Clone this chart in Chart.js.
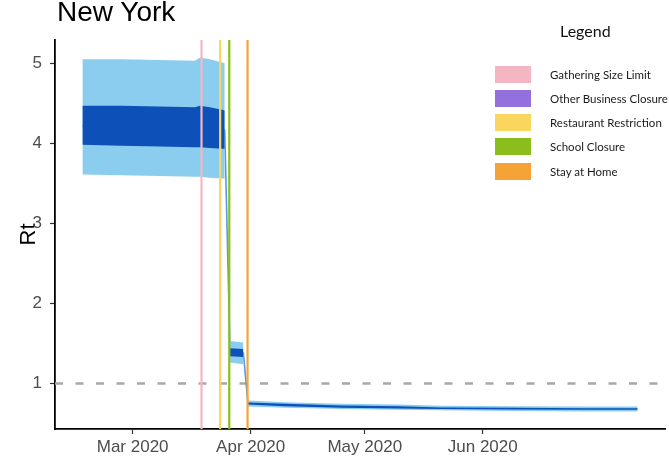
<!DOCTYPE html>
<html><head><meta charset="utf-8">
<script src="https://cdn.jsdelivr.net/npm/chart.js@4/dist/chart.umd.min.js"></script>
<style>
html,body{margin:0;padding:0;background:#fff;}
#wrap{position:relative;width:669px;height:462px;overflow:hidden;background:#fff;}
#c{position:absolute;left:0;top:0;}
#title{position:absolute;left:57px;top:-2px;font-family:"Liberation Sans",Arial,sans-serif;font-size:28px;line-height:28px;color:#000;white-space:nowrap;}
#legendTitle{position:absolute;left:560px;top:23px;font-family:Lato,"Open Sans",sans-serif;font-size:16px;line-height:16px;color:#111;white-space:nowrap;}
.lrow{position:absolute;left:495px;height:17px;display:flex;align-items:center;white-space:nowrap;}
.lbox{width:36px;height:17px;flex:none;}
.ltxt{margin-left:19px;font-family:Lato,"Open Sans",sans-serif;font-size:11.5px;color:#1a1a1a;}
</style></head>
<body><div id="wrap"><canvas id="c" width="669" height="462"></canvas><div id="title">New York</div><div id="legendTitle">Legend</div></div>
<script>
// x = days since 1 Mar 2020
const days       = [-13.2, -3,   7,    16.4, 17.7, 20.3, 23.5, 24.2, 24.9, 25.6, 29.1, 29.7, 30.3,  40,    55,    70,    81,    100,   120,   132.7];
const rtMedian   = [4.22,  4.22, 4.21, 4.20, 4.21, 4.19, 4.17, 4.16, null, 1.39, 1.38, null, 0.75,  0.73,  0.71,  0.70,  0.69,  0.685, 0.68,  0.68];
const outerUpper = [5.05,  5.05, 5.04, 5.03, 5.07, 5.05, 5.01, 5.00, null, 1.53, 1.51, null, 0.785, 0.765, 0.745, 0.735, 0.72,  0.715, 0.71,  0.71];
const outerLower = [3.61,  3.60, 3.59, 3.58, 3.58, 3.57, 3.56, 3.56, null, 1.26, 1.24, null, 0.71,  0.695, 0.68,  0.67,  0.665, 0.655, 0.65,  0.65];
const innerUpper = [4.47,  4.47, 4.46, 4.45, 4.47, 4.45, 4.42, 4.41, null, 1.44, 1.43, null, 0.76,  0.745, 0.725, 0.715, 0.70,  0.695, 0.69,  0.69];
const innerLower = [3.98,  3.97, 3.96, 3.95, 3.95, 3.94, 3.93, 3.93, null, 1.34, 1.33, null, 0.735, 0.715, 0.695, 0.685, 0.68,  0.675, 0.67,  0.67];

const interventionNames  = ['Gathering Size Limit','Other Business Closure','Restaurant Restriction','School Closure','Stay at Home'];
const interventionDays   = [18.1, null, 23.0, 25.4, 30.2];
const interventionColors = ['#f4b6c2','#9370db','#fad65f','#8bbd1c','#f5a336'];

const thresholdRt = 1;
const xTickDays   = [0, 31, 61, 92];
const xTickLabels = ['Mar 2020','Apr 2020','May 2020','Jun 2020'];
const yTicks      = [1, 2, 3, 4, 5];
const xRange = [-20.4, 139.9];
const yRange = [0.43, 5.29];

const pts = arr => days.map((d, i) => ({x: d, y: arr[i]}));

const LIGHT = '#8bcdef';
const DARK  = '#0c50b8';

const refLines = {
  id: 'refLines',
  beforeDatasetsDraw(chart) {
    const {ctx, chartArea: a, scales: {y}} = chart;
    const py = y.getPixelForValue(thresholdRt);
    ctx.save();
    ctx.beginPath(); ctx.rect(a.left, a.top, a.right - a.left, a.bottom - a.top); ctx.clip();
    ctx.strokeStyle = '#a8a8a8'; ctx.lineWidth = 2.5; ctx.setLineDash([8, 12.5]);
    ctx.beginPath(); ctx.moveTo(a.left, py); ctx.lineTo(a.right, py); ctx.stroke();
    ctx.restore();
  },
  afterDatasetsDraw(chart) {
    const {ctx, chartArea: a, scales: {x}} = chart;
    ctx.save();
    ctx.lineWidth = 2.2;
    interventionDays.forEach((d, i) => {
      if (d == null) return;
      const px = x.getPixelForValue(d);
      ctx.strokeStyle = interventionColors[i];
      ctx.beginPath(); ctx.moveTo(px, a.top); ctx.lineTo(px, a.bottom); ctx.stroke();
    });
    ctx.restore();
  }
};

const bandDs = (label, data, color, fill, order) => ({
  label, data: pts(data), borderWidth: 0, pointRadius: 0, backgroundColor: color,
  borderColor: color, fill, spanGaps: false, order, tension: 0
});

new Chart(document.getElementById('c'), {
  type: 'line',
  data: {
    datasets: [
      bandDs('outerUpper', outerUpper, LIGHT, false, 3),
      bandDs('outerLower', outerLower, LIGHT, '-1', 3),
      bandDs('innerUpper', innerUpper, DARK, false, 2),
      bandDs('innerLower', innerLower, DARK, '-1', 2),
      { label: 'Rt', data: pts(rtMedian), borderColor: '#4f9de6', borderWidth: 1.6, pointRadius: 0,
        fill: false, spanGaps: true, order: 4, tension: 0 }
    ]
  },
  options: {
    responsive: false, animation: false, devicePixelRatio: 1,
    layout: { padding: { top: 40, right: 4, left: 0, bottom: 0 } },
    plugins: { legend: { display: false }, tooltip: { enabled: false }, title: { display: false } },
    scales: {
      x: {
        type: 'linear', min: xRange[0], max: xRange[1],
        afterBuildTicks: s => { s.ticks = xTickDays.map(v => ({value: v})); },
        afterFit: s => { s.height = 33; },
        ticks: { autoSkip: false, maxRotation: 0, padding: 3, color: '#4d4d4d',
          font: { family: '"Liberation Sans", Arial, sans-serif', size: 17 },
          callback: (v, i) => xTickLabels[i] },
        grid: { drawOnChartArea: false, drawTicks: true, tickLength: 5, tickWidth: 1.2, tickColor: '#333' },
        border: { display: true, color: '#000', width: 1.8 }
      },
      y: {
        type: 'linear', min: yRange[0], max: yRange[1],
        afterBuildTicks: s => { s.ticks = yTicks.map(v => ({value: v})); },
        afterFit: s => { s.width = 55; },
        ticks: { padding: 8, color: '#4d4d4d',
          font: { family: '"Liberation Sans", Arial, sans-serif', size: 17 } },
        grid: { drawOnChartArea: false, drawTicks: true, tickLength: 5, tickWidth: 1.2, tickColor: '#333' },
        border: { display: true, color: '#000', width: 1.8 },
        title: { display: true, text: 'Rt', color: '#000', padding: { top: 16, bottom: 0 },
          font: { family: '"Liberation Sans", Arial, sans-serif', size: 22 } }
      }
    }
  },
  plugins: [refLines]
});

const wrap = document.getElementById('wrap');
interventionNames.forEach((name, i) => {
  const row = document.createElement('div');
  row.className = 'lrow';
  row.style.top = (65.5 + 24.3 * i) + 'px';
  const box = document.createElement('div');
  box.className = 'lbox'; box.style.background = interventionColors[i];
  const t = document.createElement('span');
  t.className = 'ltxt'; t.textContent = name;
  row.appendChild(box); row.appendChild(t);
  wrap.appendChild(row);
});
</script>
</body></html>
